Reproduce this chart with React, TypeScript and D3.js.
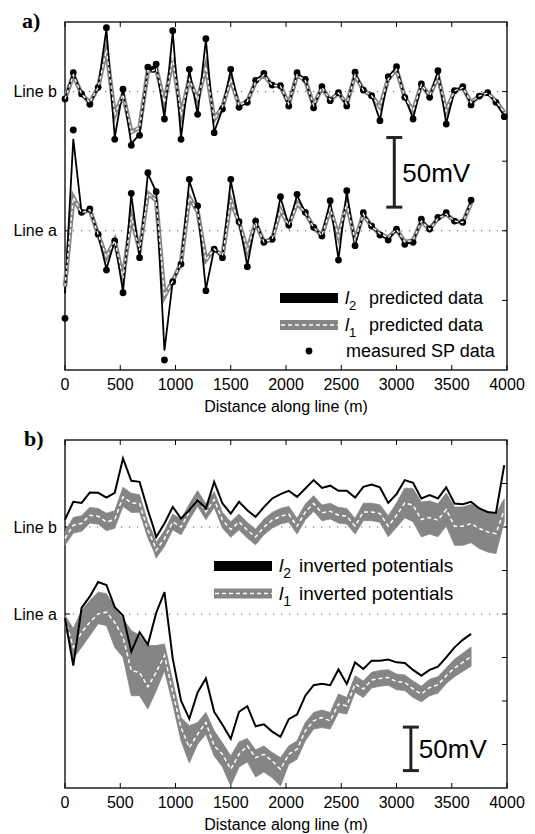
import React from "react";
import * as d3 from "d3";

// ---------- stations (m) ----------
const stationsA = [0,75,150,225,300,375,450,525,600,675,750,825,900,975,1050,1125,1200,1275,1350,1425,1500,1575,1650,1725,1800,1875,1950,2025,2100,2175,2250,2325,2400,2475,2550,2625,2700,2775,2850,2925,3000,3075,3150,3225,3300,3375,3450,3525,3600,3675];
const stationsB = [0,75,150,225,300,375,450,525,600,675,750,800,825,900,975,1050,1125,1200,1275,1350,1425,1500,1575,1650,1725,1800,1875,1950,2025,2100,2175,2250,2325,2400,2475,2550,2625,2700,2775,2850,2925,3000,3075,3150,3225,3300,3375,3450,3525,3600,3675,3750,3825,3900,3975];

// ---------- panel a (mV anomaly about each line's baseline) ----------
const aLineBMeasured = [-5.3,13.6,-1.7,-9.1,3.1,45.9,-34.3,1.7,-38.6,-31.4,17.5,16.2,19.8,-19.7,43.8,-34.3,16,-16.3,38,-29.5,-12.5,16,-11.3,-7.7,8.1,13.1,4.7,4.2,-10.3,13.6,8.8,-11.6,3.5,-6.5,-0.8,-10.3,13.9,1.1,-2.9,-20.9,10.7,17.9,-4.1,-19.7,5.5,-4.1,15,-23.3,0.6,3.5,-9.6,-3.2,-0.8,-7.7,-18];
const aLineBL2 = [-5,13.2,-1.5,-9,3,45,-33,1.5,-37.5,-30.5,17,16,19.5,-19,43,-33.5,15.5,-16,37.5,-29,-12.5,15.5,-11,-7.5,8,13,4.5,4,-10,13.3,8.5,-11.3,3.5,-6.3,-0.8,-10,13.5,1,-3,-20.5,10.5,17.5,-4,-19.3,5.3,-4,14.7,-22.8,0.5,3.3,-9.3,-3,-1,-8,-17.5];
const aLineBL1 = [-5.3,12,-1.7,-8,3.1,30,-17,-2,-29,-26,15,15,17,-8,24,-17,9,-6,18,-20,-11,9,-10,-7,7,12,4.5,4,-9,12,8,-10,3,-6,-1,-9,12,1,-3,-11,9,16,-4,-14,5,-3,11,-14,0.5,3,-8,-3,-1,-7,-15];
const aLineAMeasured = [-62.9,72.4,13.3,15.7,-2.5,-28.2,-7.3,-44.5,26.9,-19.3,41.7,28.1,-92.8,-36.6,-23.9,37,17.8,-43,-13.1,-19.3,37,6.5,-25.8,7,-8.3,-6.1,24.5,4.2,26.2,13.3,2.5,-3.7,21.6,-21,28.8,-10.7,13,3.4,-3,-6.6,1.1,-9.7,-8.3,8.3,1.3,9.7,13,7,6.1,22.1];
const aLineAL2 = [-45,66,13,15.5,-2.5,-27.5,-7,-43.5,26,-19,41,28,-86,-36,-23.5,36,17.5,-42,-13,-19,36,6.5,-25,7,-8,-6,24,4,25.5,13,2.5,-3.5,21,-20.5,28,-10.5,12.8,3.4,-3,-6.5,1,-9.5,-8,8,1.3,9.5,12.8,7,6,21.5];
const aLineAL1 = [-40,24,13,15,-2.5,-19,-7,-34,10,-14,27,22,-47,-36,-23,24,14,-21,-13,-18,22,6,-14,6,-8,-6,15,4,20,13,2.5,-3.5,16,-4,20,-7,12,3,-2,-5,1,-8,-7,7,1,9,12,7,6,20];

// ---------- panel b ----------
const bLineBL2 = [8.5,28.9,27.7,39.7,39.3,33.9,39.3,78.9,53.1,51.9,19.3,-0.3,-11.5,4,23.1,9.7,19.3,30.8,21.3,51.9,27,15.5,28.9,19.3,11.6,22.8,32.8,37.8,41.6,34.6,44.3,53.9,45,47.5,41.6,41.6,33.9,46.2,48.9,45.5,27.7,37.8,53.9,50.8,32.8,36.6,32.8,45.5,27,26.2,28.9,21.3,17.3,16.2,71.2];
const bLineBL1 = [-13,2,4,13.5,12.4,5.8,8.6,34.6,27.7,27,-3.7,-17.6,-26.8,-13.3,5.8,0,17.3,32.8,17.3,31.6,7.8,-2.9,5.8,-3.7,-11.5,0,7.8,12.4,14.7,0.9,17.3,27,16.2,18.2,13.5,12.4,0.9,17.3,17.3,15.5,0.9,13.5,27.7,25.1,8.6,10.9,7.8,20.1,0.9,0.9,4,-1.8,-5.7,-7.6,19.3];
const bLineBSpread = [8,9,9,9,9,10,10,11,11,10,9,9,9,9,9,9,9,9,9,9,9,9,9,9,9,9,9,9,9,9,9,9,9,9,9,9,9,10,10,10,12,14,17,19,20,19,19,19,22,22,22,23,23,23,13];
const bLineAL2 = [-4.6,-59.4,6.9,20.2,36.7,33.4,7.8,-1.7,-43.2,-21,-35.2,1.2,25.1,-51.3,-99.7,-120.5,-90.1,-74.1,-112.4,-127.4,-143.5,-112.4,-106,-129.1,-126.8,-135.2,-141.2,-120.8,-115.5,-93.9,-81.8,-80.1,-81.8,-63.7,-80.5,-55.6,-63.2,-53.6,-53.6,-52.4,-55.6,-56.3,-64.3,-70.9,-64.3,-60.5,-49.8,-38.3,-29.7,-22.8];
const bLineAL1 = [-5.5,-38.3,-21,-9.5,0.2,2.1,-9.5,-26.7,-65.1,-67.1,-83.6,-67.1,-47.8,-90.1,-130.5,-153.5,-138.1,-124.7,-151.6,-161.2,-178.4,-161.2,-151.6,-165.1,-161.2,-168.9,-178.4,-161.2,-155.4,-134.3,-122.8,-119,-122.8,-103.5,-105.5,-80.5,-86.2,-75.9,-74,-72.9,-77.8,-78.6,-86.2,-92,-84.4,-81.3,-70.9,-62,-55.6,-49];
const bLineAHigh = [-1.7,-16.7,4,15.6,25.1,23.3,7.8,-5.5,-19,-24.8,-36.3,-36.3,-34.4,-76.7,-119,-128.5,-124.7,-113.2,-134.3,-148.1,-163.1,-147,-143,-156.2,-151.6,-159.3,-165.1,-151.6,-145.8,-124.7,-113.2,-110.4,-113.2,-92,-96,-71,-77,-67,-65,-64,-69,-70,-77,-83,-75,-72,-62,-52,-45,-38];
const bLineALow = [-13.3,-51.3,-38.3,-24.8,-11.3,-13.3,-38.3,-49.8,-93.9,-93.9,-109.3,-88.2,-65.1,-103.5,-145.8,-171.2,-149.6,-138.1,-163.1,-175.8,-197.7,-175.8,-170,-187.3,-181.6,-188.1,-197.7,-172.7,-166.9,-145.8,-132.3,-130.5,-132.3,-113.2,-115,-90,-96,-85,-83,-82,-87,-88,-96,-101,-94,-91,-80,-72,-66,-60];

// ---------- ticks & labels ----------
const xTicks = [0,500,1000,1500,2000,2500,3000,3500,4000];
const rightTicksA = [-50,0,50,100];
const rightTicksB = [-150,-100,-50,0,50,100,150];
const lineOffsets = { a: 0, b: 100 };
const lineLabels = [{ key: "b", text: "Line b" }, { key: "a", text: "Line a" }];
const xTitle = "Distance along line (m)";

const FONT = "'Liberation Sans', Arial, Helvetica, sans-serif";
const SERIF = "'Liberation Serif', 'Times New Roman', serif";
const GRAY = "#858585";
const X0 = 65, X1 = 507;

const x = d3.scaleLinear().domain([0, 4000]).range([X0, X1]);

function Frame({ y, top, bottom, rightTicks }: any) {
  return (
    <g>
      {lineLabels.map((l) => {
        const yy = y(lineOffsets[l.key as "a" | "b"]);
        return (
          <g key={l.key}>
            <line x1={X0} x2={X1} y1={yy} y2={yy} stroke="#555" strokeWidth={1} strokeDasharray="1.2 6.8" />
            <line x1={X0} x2={X0 + 5} y1={yy} y2={yy} stroke="black" strokeWidth={1} />
            <text x={57} y={yy + 5.5} fontSize={16} textAnchor="end">{l.text}</text>
          </g>
        );
      })}
      {rightTicks.map((t: number) => (
        <line key={t} x1={X1} x2={X1 - 5} y1={y(t)} y2={y(t)} stroke="black" strokeWidth={1} />
      ))}
      {xTicks.map((t) => (
        <g key={t}>
          <line x1={x(t)} x2={x(t)} y1={bottom} y2={bottom - 5} stroke="black" strokeWidth={1} />
          <line x1={x(t)} x2={x(t)} y1={top} y2={top + 5} stroke="black" strokeWidth={1} />
          <text x={x(t)} y={bottom + 20} fontSize={16} textAnchor="middle">{t}</text>
        </g>
      ))}
      <rect x={X0} y={top} width={X1 - X0} height={bottom - top} fill="none" stroke="black" strokeWidth={1.3} />
      <text x={(X0 + X1) / 2} y={bottom + 42} fontSize={16} textAnchor="middle">{xTitle}</text>
    </g>
  );
}

function ScaleBar({ xm, y, lo, hi }: any) {
  const xx = x(xm);
  return (
    <g>
      <line x1={xx} x2={xx} y1={y(lo)} y2={y(hi)} stroke="#222" strokeWidth={3} />
      <line x1={xx - 8} x2={xx + 8} y1={y(lo)} y2={y(lo)} stroke="#222" strokeWidth={3} />
      <line x1={xx - 8} x2={xx + 8} y1={y(hi)} y2={y(hi)} stroke="#222" strokeWidth={3} />
      <text x={xx + 8} y={(y(lo) + y(hi)) / 2 + 9.5} fontSize={26}>50mV</text>
    </g>
  );
}

function LegendEntry({ x1, x2, yc, kind, sub, label, textX, labelX, fs }: any) {
  return (
    <g>
      {kind === "l2" && <line x1={x1} x2={x2} y1={yc} y2={yc} stroke="black" strokeWidth={10} />}
      {kind === "l1" && (
        <g>
          <line x1={x1} x2={x2} y1={yc} y2={yc} stroke={GRAY} strokeWidth={10} />
          <line x1={x1 + 1} x2={x2} y1={yc} y2={yc} stroke="white" strokeWidth={1.5} strokeDasharray="4 3" />
        </g>
      )}
      {kind === "dot" && <circle cx={(x1 + x2) / 2} cy={yc} r={3.4} fill="black" />}
      {sub && (
        <text x={textX} y={yc + 6} fontSize={fs}>
          <tspan fontStyle="italic">l</tspan>
          <tspan fontSize={fs - 5} dy={6}>{sub}</tspan>
        </text>
      )}
      <text x={labelX} y={yc + 6} fontSize={fs}>{label}</text>
    </g>
  );
}

export default function App() {
  const yA = d3.scaleLinear().domain([-100, 150]).range([370, 22]);
  const yB = d3.scaleLinear().domain([-200, 200]).range([788, 440]);

  const mkLine = (xs: number[], y: any, off: number) =>
    d3.line<number>().x((_, i) => x(xs[i])).y((d) => y(d + off));

  const mkBand = (xs: number[], y: any, off: number, lo: number[], hi: number[]) =>
    d3.area<number>().x((_, i) => x(xs[i])).y0((_, i) => y(lo[i] + off)).y1((_, i) => y(hi[i] + off));

  const panelASeries = [
    { xs: stationsB, off: lineOffsets.b, meas: aLineBMeasured, l2: aLineBL2, l1: aLineBL1 },
    { xs: stationsA, off: lineOffsets.a, meas: aLineAMeasured, l2: aLineAL2, l1: aLineAL1 },
  ];

  const bLineBLow = bLineBL1.map((v, i) => v - bLineBSpread[i]);
  const bLineBHigh = bLineBL1.map((v, i) => v + bLineBSpread[i]);
  const panelBSeries = [
    { xs: stationsB, off: lineOffsets.b, l2: bLineBL2, l1: bLineBL1, lo: bLineBLow, hi: bLineBHigh },
    { xs: stationsA, off: lineOffsets.a, l2: bLineAL2, l1: bLineAL1, lo: bLineALow, hi: bLineAHigh },
  ];

  return (
    <svg width={535} height={834} style={{ position: "absolute", left: 0, top: 0 }} fontFamily={FONT}>
      <rect width={535} height={834} fill="white" />

      {/* ---------- panel a ---------- */}
      <text x={22} y={28} fontFamily={SERIF} fontWeight="bold" fontSize={22}>a)</text>
      <Frame y={yA} top={22} bottom={370} rightTicks={rightTicksA} />
      {panelASeries.map((s, k) => (
        <g key={"a" + k}>
          <path d={mkLine(s.xs, yA, s.off)(s.l1) || ""} fill="none" stroke={GRAY} strokeWidth={4.5} strokeLinejoin="miter" strokeMiterlimit={6} />
          <path d={mkLine(s.xs, yA, s.off)(s.l2) || ""} fill="none" stroke="black" strokeWidth={1.8} />
          {s.meas.map((v, i) => (
            <circle key={i} cx={x(s.xs[i])} cy={yA(v + s.off)} r={3.4} fill="black" />
          ))}
          <path d={mkLine(s.xs, yA, s.off)(s.l1) || ""} fill="none" stroke="white" strokeWidth={1.3} strokeDasharray="3.5 2.5" />
        </g>
      ))}
      <ScaleBar xm={2980} y={yA} lo={17} hi={67} />
      <LegendEntry x1={280} x2={338} yc={298} kind="l2" sub="2" textX={345} labelX={369} label="predicted data" fs={18} />
      <LegendEntry x1={280} x2={338} yc={325} kind="l1" sub="1" textX={345} labelX={369} label="predicted data" fs={18} />
      <LegendEntry x1={280} x2={338} yc={351} kind="dot" labelX={346} label="measured SP data" fs={18} />

      {/* ---------- panel b ---------- */}
      <text x={24} y={446} fontFamily={SERIF} fontWeight="bold" fontSize={22}>b)</text>
      <Frame y={yB} top={440} bottom={788} rightTicks={rightTicksB} />
      {panelBSeries.map((s, k) => (
        <g key={"b" + k}>
          <path d={mkBand(s.xs, yB, s.off, s.lo, s.hi)(s.l1) || ""} fill={GRAY} stroke={GRAY} strokeWidth={0.8} />
          <path d={mkLine(s.xs, yB, s.off)(s.l1) || ""} fill="none" stroke="white" strokeWidth={1.5} strokeDasharray="4 3" />
          <path d={mkLine(s.xs, yB, s.off)(s.l2) || ""} fill="none" stroke="black" strokeWidth={2} />
        </g>
      ))}
      <ScaleBar xm={3130} y={yB} lo={-180} hi={-130} />
      <LegendEntry x1={214} x2={272} yc={566} kind="l2" sub="2" textX={279} labelX={299} label="inverted potentials" fs={19} />
      <LegendEntry x1={214} x2={272} yc={593.5} kind="l1" sub="1" textX={279} labelX={299} label="inverted potentials" fs={19} />
    </svg>
  );
}
